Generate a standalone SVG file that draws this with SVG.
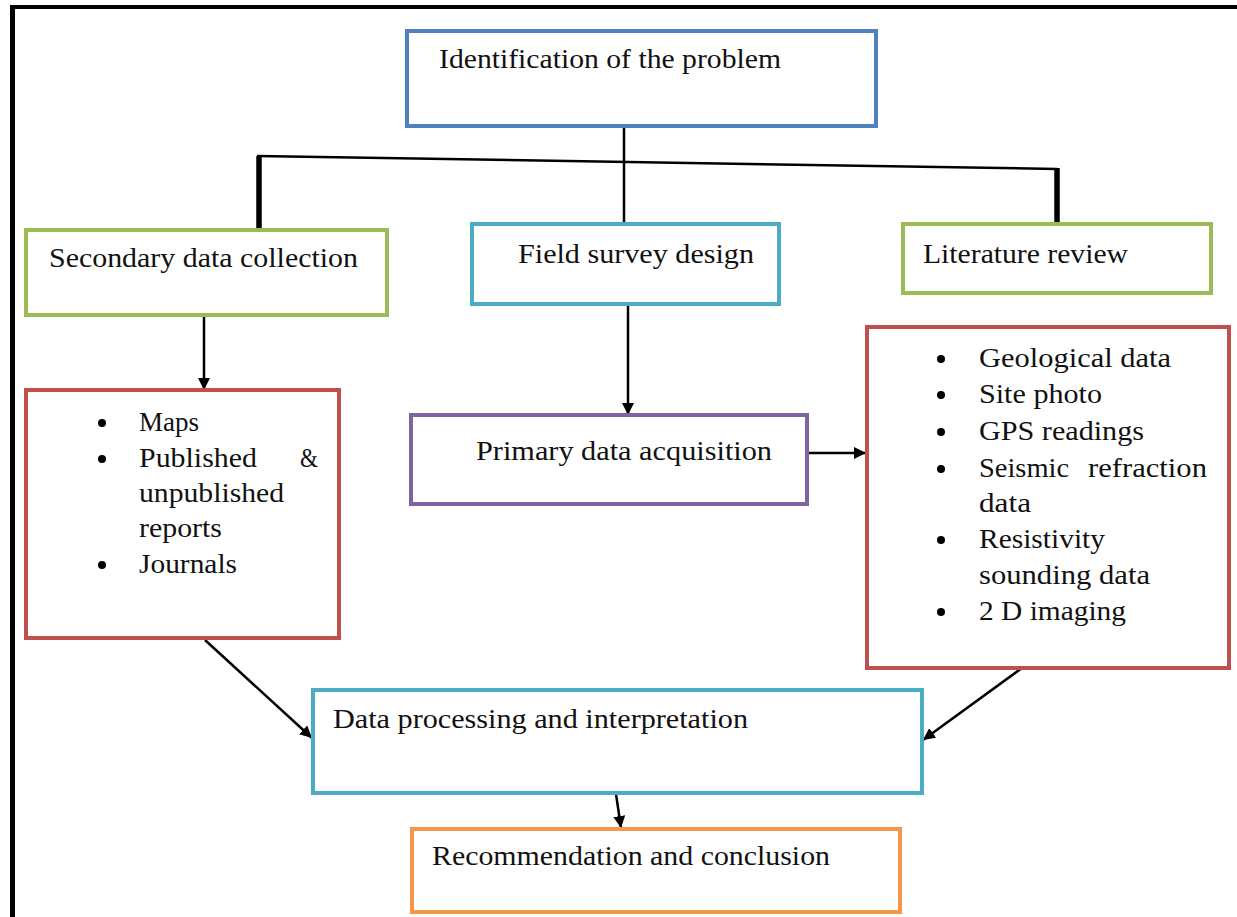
<svg xmlns="http://www.w3.org/2000/svg" width="1237" height="917" viewBox="0 0 1237 917">
<defs>
<marker id="ah" markerUnits="userSpaceOnUse" markerWidth="14" markerHeight="12" refX="12" refY="6" orient="auto">
<path d="M0,0 L12,6 L0,12 Z" fill="#000"/>
</marker>
<style>
.box{fill:#fff;stroke-width:4}
.blue{stroke:#4F81BD}
.green{stroke:#9BBB59}
.aqua{stroke:#4BACC6}
.red{stroke:#C0504D}
.purple{stroke:#8064A2}
.orange{stroke:#F79646}
text{font-family:"Liberation Serif","Times New Roman",serif;font-size:27px;fill:#111}
.con{stroke:#000;stroke-width:2.5;fill:none}
.thick{stroke:#000;stroke-width:5.5;fill:none}
.bul{fill:#000}
</style>
</defs>
<rect width="1237" height="917" fill="#fff"/>
<g id="frame">
<rect x="10" y="5" width="1227" height="4" fill="#000"/>
<rect x="10" y="5" width="5" height="912" fill="#000"/>
</g>
<g id="connectors">
<line class="con" x1="624" y1="127" x2="624" y2="224"/>
<polyline class="con" points="257,156 1057,169"/>
<line class="thick" x1="259" y1="156" x2="259" y2="230"/>
<line class="thick" x1="1057" y1="168" x2="1057" y2="224"/>
<line class="con" x1="204" y1="317" x2="204" y2="390" marker-end="url(#ah)"/>
<line class="con" x1="628" y1="304" x2="628" y2="415" marker-end="url(#ah)"/>
<line class="con" x1="809" y1="453" x2="866" y2="453" marker-end="url(#ah)"/>
<line class="con" x1="205" y1="640" x2="312" y2="738" marker-end="url(#ah)"/>
<line class="con" x1="1022" y1="668" x2="923" y2="740" marker-end="url(#ah)"/>
<line class="con" x1="616" y1="794" x2="621" y2="828" marker-end="url(#ah)"/>
</g>
<g id="identification">
<rect class="box blue" x="407" y="31" width="469" height="95"/>
<text x="439" y="68" textLength="342" lengthAdjust="spacingAndGlyphs">Identification of the problem</text>
</g>
<g id="secondary">
<rect class="box green" x="26" y="230" width="361" height="85"/>
<text x="49" y="267" textLength="309" lengthAdjust="spacingAndGlyphs">Secondary data collection</text>
</g>
<g id="field">
<rect class="box aqua" x="472" y="224" width="307" height="80"/>
<text x="518" y="263" textLength="236" lengthAdjust="spacingAndGlyphs">Field survey design</text>
</g>
<g id="literature">
<rect class="box green" x="903" y="224" width="308" height="69"/>
<text x="923" y="263" textLength="205" lengthAdjust="spacingAndGlyphs">Literature review</text>
</g>
<g id="secondary-sources">
<rect class="box red" x="26" y="390" width="313" height="248"/>
<circle class="bul" cx="102" cy="423" r="4"/>
<circle class="bul" cx="102" cy="459" r="4"/>
<circle class="bul" cx="102" cy="565" r="4"/>
<text x="139" y="431" textLength="60" lengthAdjust="spacingAndGlyphs">Maps</text>
<text x="139" y="467" textLength="118" lengthAdjust="spacingAndGlyphs">Published</text>
<text x="300" y="467" textLength="18" lengthAdjust="spacingAndGlyphs">&amp;</text>
<text x="139" y="502" textLength="145" lengthAdjust="spacingAndGlyphs">unpublished</text>
<text x="139" y="537" textLength="83" lengthAdjust="spacingAndGlyphs">reports</text>
<text x="139" y="573" textLength="98" lengthAdjust="spacingAndGlyphs">Journals</text>
</g>
<g id="primary">
<rect class="box purple" x="411" y="415" width="396" height="89"/>
<text x="476" y="460" textLength="296" lengthAdjust="spacingAndGlyphs">Primary data acquisition</text>
</g>
<g id="primary-data">
<rect class="box red" x="867" y="327" width="362" height="341"/>
<circle class="bul" cx="941" cy="359" r="4"/>
<circle class="bul" cx="941" cy="395" r="4"/>
<circle class="bul" cx="941" cy="432" r="4"/>
<circle class="bul" cx="941" cy="469" r="4"/>
<circle class="bul" cx="941" cy="540" r="4"/>
<circle class="bul" cx="941" cy="612" r="4"/>
<text x="979" y="367" textLength="192" lengthAdjust="spacingAndGlyphs">Geological data</text>
<text x="979" y="403" textLength="123" lengthAdjust="spacingAndGlyphs">Site photo</text>
<text x="979" y="440" textLength="165" lengthAdjust="spacingAndGlyphs">GPS readings</text>
<text x="979" y="477" textLength="90" lengthAdjust="spacingAndGlyphs">Seismic</text>
<text x="1088" y="477" textLength="119" lengthAdjust="spacingAndGlyphs">refraction</text>
<text x="979" y="512" textLength="52" lengthAdjust="spacingAndGlyphs">data</text>
<text x="979" y="548" textLength="126" lengthAdjust="spacingAndGlyphs">Resistivity</text>
<text x="979" y="584" textLength="171" lengthAdjust="spacingAndGlyphs">sounding data</text>
<text x="979" y="620" textLength="147" lengthAdjust="spacingAndGlyphs">2 D imaging</text>
</g>
<g id="processing">
<rect class="box aqua" x="313" y="690" width="609" height="103"/>
<text x="333" y="728" textLength="415" lengthAdjust="spacingAndGlyphs">Data processing and interpretation</text>
</g>
<g id="recommendation">
<rect class="box orange" x="412" y="829" width="488" height="83"/>
<text x="432" y="865" textLength="398" lengthAdjust="spacingAndGlyphs">Recommendation and conclusion</text>
</g>
</svg>
